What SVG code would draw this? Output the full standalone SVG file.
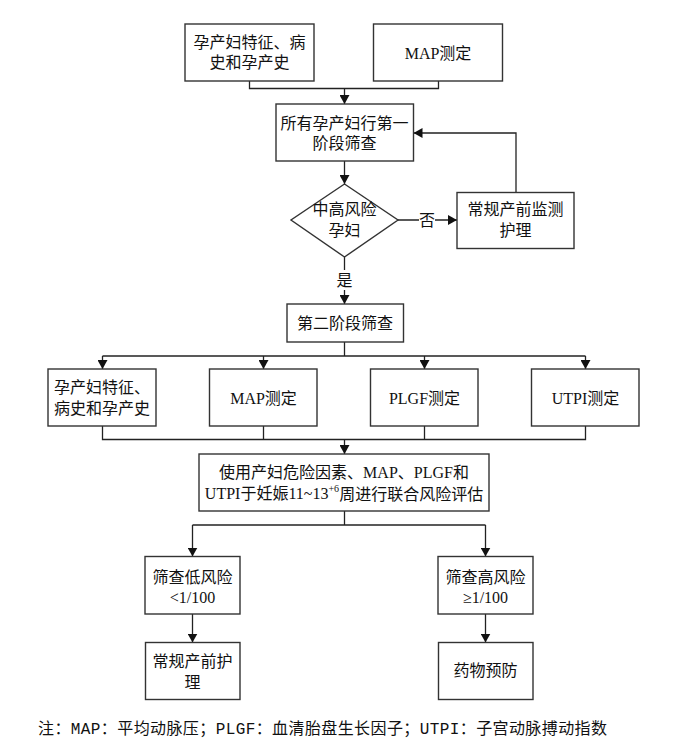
<svg xmlns="http://www.w3.org/2000/svg" width="695" height="755" viewBox="0 0 695 755">
<defs>
<marker id="arr" markerUnits="userSpaceOnUse" markerWidth="9" markerHeight="10" refX="9" refY="5" orient="auto">
<path d="M0,0 L9,5 L0,10 z" fill="#111"/>
</marker>
<style>
.box{fill:#fff;stroke:#333;stroke-width:1.4}
.t{font-family:"Liberation Serif","Noto Sans CJK SC",serif;font-size:16px;fill:#111;text-anchor:middle;dominant-baseline:central}
.c{fill:none;stroke:#222;stroke-width:1.3}
.a{fill:none;stroke:#222;stroke-width:1.3;marker-end:url(#arr)}
.note{font-family:"Liberation Mono","Noto Sans CJK SC",monospace;font-size:16px;fill:#111}
</style>
</defs>
<rect width="695" height="755" fill="#fff"/>

<g id="connectors">
<polyline class="c" points="249.5,81 249.5,88.5 438.5,88.5 438.5,81"/>
<line class="a" x1="344.5" y1="88.5" x2="344.5" y2="104"/>
<line class="a" x1="344.5" y1="161" x2="344.5" y2="184"/>
<line class="a" x1="398" y1="220" x2="457" y2="220"/>
<polyline class="a" points="516,192 516,133 413.5,133"/>
<line class="a" x1="344.5" y1="257" x2="344.5" y2="304"/>
<line class="c" x1="344.5" y1="342" x2="344.5" y2="356"/>
<line class="c" x1="102.5" y1="356" x2="585.5" y2="356"/>
<line class="a" x1="102.5" y1="356" x2="102.5" y2="369"/>
<line class="a" x1="263.5" y1="356" x2="263.5" y2="369"/>
<line class="a" x1="424.5" y1="356" x2="424.5" y2="369"/>
<line class="a" x1="585.5" y1="356" x2="585.5" y2="369"/>
<polyline class="c" points="102.5,426 102.5,439.5 585.5,439.5 585.5,426"/>
<line class="c" x1="263.5" y1="426" x2="263.5" y2="439.5"/>
<line class="c" x1="424.5" y1="426" x2="424.5" y2="439.5"/>
<line class="a" x1="344.5" y1="439.5" x2="344.5" y2="454"/>
<line class="c" x1="344.5" y1="511" x2="344.5" y2="525"/>
<line class="c" x1="192.5" y1="525" x2="485.5" y2="525"/>
<line class="a" x1="192.5" y1="525" x2="192.5" y2="556.5"/>
<line class="a" x1="485.5" y1="525" x2="485.5" y2="556.5"/>
<line class="a" x1="192.5" y1="614" x2="192.5" y2="642.5"/>
<line class="a" x1="485.5" y1="614" x2="485.5" y2="642.5"/>
<rect x="419" y="210" width="16" height="20" fill="#fff"/>
<text class="t" x="427" y="220">否</text>
<rect x="336" y="270" width="17" height="20" fill="#fff"/>
<text class="t" x="344.5" y="280">是</text>
</g>

<g id="n1"><rect class="box" x="185" y="24" width="129" height="57"/>
<text class="t" x="249.5" y="42">孕产妇特征、病</text><text class="t" x="249.5" y="62.5">史和孕产史</text></g>
<g id="n2"><rect class="box" x="373.5" y="24" width="129" height="57"/>
<text class="t" x="438" y="53">MAP测定</text></g>
<g id="n3"><rect class="box" x="276" y="104" width="137.5" height="57"/>
<text class="t" x="344.5" y="123">所有孕产妇行第一</text><text class="t" x="344.5" y="143">阶段筛查</text></g>
<g id="n4"><polygon class="box" points="344.5,184 398,220 344.5,257 291,220"/>
<text class="t" x="344.5" y="209.5">中高风险</text><text class="t" x="344.5" y="230">孕妇</text></g>
<g id="n5"><rect class="box" x="457" y="192.5" width="117" height="56"/>
<text class="t" x="515.5" y="209.5">常规产前监测</text><text class="t" x="515.5" y="230">护理</text></g>
<g id="n6"><rect class="box" x="287" y="304" width="116.5" height="38"/>
<text class="t" x="345" y="323.5">第二阶段筛查</text></g>
<g id="n7"><rect class="box" x="48" y="369" width="108" height="57"/>
<text class="t" x="102" y="387">孕产妇特征、</text><text class="t" x="102" y="408.5">病史和孕产史</text></g>
<g id="n8"><rect class="box" x="209.5" y="369" width="107.5" height="57"/>
<text class="t" x="263.5" y="398.5">MAP测定</text></g>
<g id="n9"><rect class="box" x="370.5" y="369" width="107.5" height="57"/>
<text class="t" x="424.5" y="398.5">PLGF测定</text></g>
<g id="n10"><rect class="box" x="531.5" y="369" width="107.5" height="57"/>
<text class="t" x="585.5" y="398.5">UTPI测定</text></g>
<g id="n11"><rect class="box" x="199" y="454" width="290" height="57"/>
<text class="t" x="344" y="472">使用产妇危险因素、MAP、PLGF和</text>
<text class="t" x="344" y="493.5">UTPI于妊娠11~13<tspan font-size="10" dy="-6">+6</tspan><tspan dy="6">周进行联合风险评估</tspan></text></g>
<g id="n12"><rect class="box" x="145" y="556.5" width="95" height="57.5"/>
<text class="t" x="192.5" y="577">筛查低风险</text><text class="t" x="192.5" y="597">&lt;1/100</text></g>
<g id="n13"><rect class="box" x="438" y="556.5" width="95" height="57.5"/>
<text class="t" x="485.5" y="577">筛查高风险</text><text class="t" x="485.5" y="597">≥1/100</text></g>
<g id="n14"><rect class="box" x="145.5" y="642.5" width="94.5" height="57"/>
<text class="t" x="192.5" y="661">常规产前护</text><text class="t" x="192.5" y="682">理</text></g>
<g id="n15"><rect class="box" x="438.5" y="642.5" width="94.5" height="57"/>
<text class="t" x="485.5" y="670.5">药物预防</text></g>

<text class="note" x="38" y="734" textLength="569" lengthAdjust="spacing">注：MAP：平均动脉压；PLGF：血清胎盘生长因子；UTPI：子宫动脉搏动指数</text>
</svg>
